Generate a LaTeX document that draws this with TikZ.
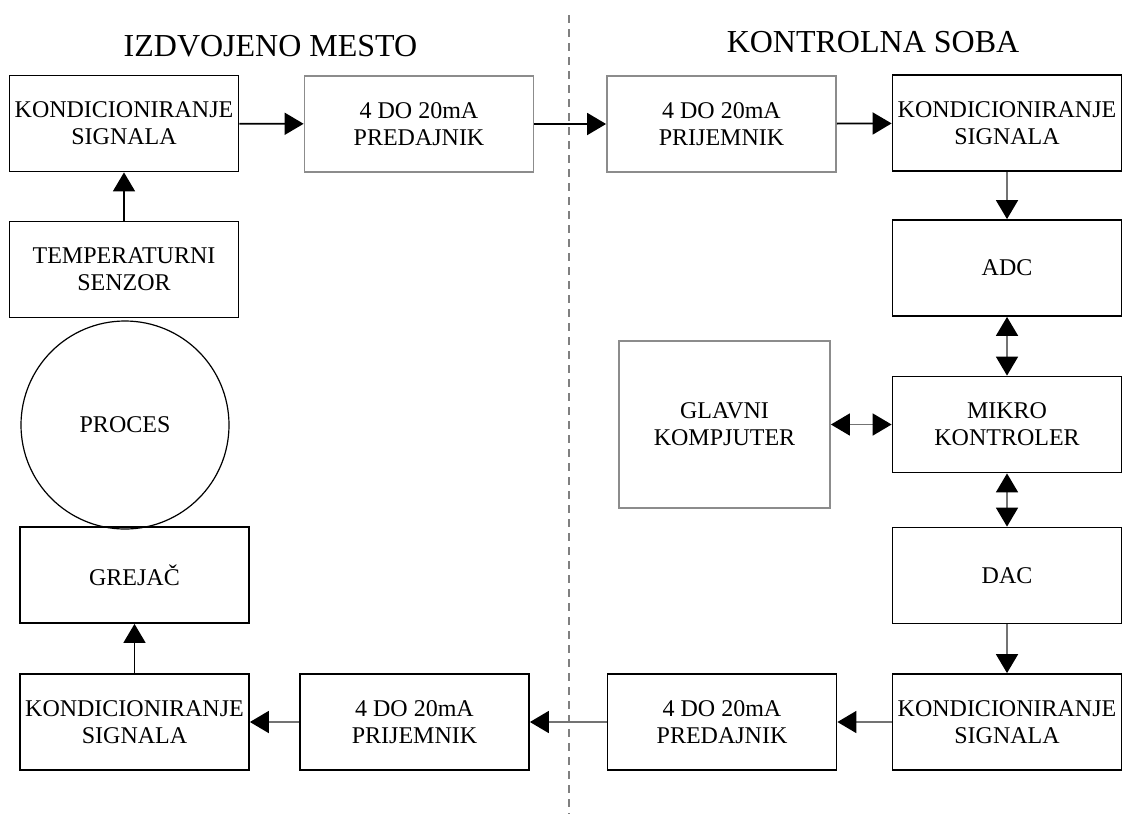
\documentclass[tikz,border=0pt]{standalone}
\usepackage{fontspec}
\setmainfont{Liberation Serif}
\usetikzlibrary{arrows.meta}
\newcommand{\blokfont}{\fontsize{12}{13.5}\selectfont}
\newcommand{\naslovfont}{\fontsize{16}{19}\selectfont}

\begin{document}
\begin{tikzpicture}[x=0.5pt, y=-0.5pt,
    >={Triangle[length=9.5pt, width=11pt, color=black]},
    blok/.style={draw, line width=0.9pt, minimum width=114.5pt, minimum height=48pt,
                 inner sep=0pt, align=center, font=\blokfont},
    sivblok/.style={blok, draw=black!45},
    tok/.style={line width=0.9pt, ->},
    sivtok/.style={tok, draw=black!55},
    dvotok/.style={sivtok, <->},
    naslov/.style={anchor=base, font=\naslovfont}]
      \useasboundingbox (0,0) rectangle (1122,814);

      % granica izmedju dva mesta
      \coordinate (L1) at (569,15);
      \coordinate (L2) at (569,814);
      \draw[black!50, line width=0.8pt, dash pattern=on 4pt off 3pt] (L1) -- (L2);

      \node[naslov] (N1) at (270.5,56) {IZDVOJENO MESTO};
      \node[naslov] (N2) at (873,52)   {KONTROLNA SOBA};

      \node[blok]    (K1)  at (124,123.5)  {KONDICIONIRANJE\\SIGNALA};
      \node[sivblok] (P1)  at (419,124)    {4 DO 20mA\\PREDAJNIK};
      \node[sivblok] (R1)  at (721.5,124)  {4 DO 20mA\\PRIJEMNIK};
      \node[blok]    (K2)  at (1007,123)   {KONDICIONIRANJE\\SIGNALA};
      \node[blok]    (ADC) at (1007,268)   {ADC};
      \node[blok]    (MK)  at (1007,424.5) {MIKRO\\KONTROLER};
      \node[sivblok, minimum width=105.5pt, minimum height=83.5pt]
                     (GK)  at (724.5,424.5) {GLAVNI\\KOMPJUTER};
      \node[blok]    (DAC) at (1007,575.5) {DAC};
      \node[blok]    (K3)  at (1007,722)   {KONDICIONIRANJE\\SIGNALA};
      \node[blok]    (P2)  at (722,722)    {4 DO 20mA\\PREDAJNIK};
      \node[blok]    (R2)  at (414.5,722)  {4 DO 20mA\\PRIJEMNIK};
      \node[blok]    (K4)  at (134.5,722)  {KONDICIONIRANJE\\SIGNALA};
      \node[blok]    (G)   at (134.5,575)  {GREJAČ};
      \node[draw, circle, line width=0.6pt, minimum size=104pt, inner sep=0pt, font=\blokfont]
                     (PR)  at (125,425)    {PROCES};
      \node[blok]    (TS)  at (124,269.5)  {TEMPERATURNI\\SENZOR};

      \path (TS)  edge[tok]    (K1);
      \path (K1)  edge[tok]    (P1);
      \path (P1)  edge[tok]    (R1);
      \path (R1)  edge[tok]    (K2);
      \path (K2)  edge[sivtok] (ADC);
      \path (ADC) edge[dvotok] (MK);
      \path (GK)  edge[dvotok] (MK);
      \path (MK)  edge[dvotok] (DAC);
      \path (DAC) edge[sivtok] (K3);
      \path (K3)  edge[sivtok] (P2);
      \path (P2)  edge[sivtok] (R2);
      \path (R2)  edge[sivtok] (K4);
      \path (K4)  edge[tok]    (G);
    \end{tikzpicture}
\end{document}
